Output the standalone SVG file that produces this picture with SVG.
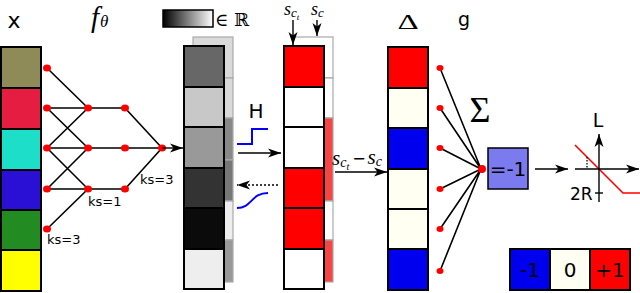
<svg xmlns="http://www.w3.org/2000/svg" width="640" height="293" viewBox="0 0 640 293">
<defs>
<linearGradient id="gbar" x1="0" y1="0" x2="1" y2="0">
<stop offset="0" stop-color="#000"/><stop offset="1" stop-color="#fff"/>
</linearGradient>
<marker id="ah" markerUnits="userSpaceOnUse" markerWidth="14" markerHeight="10" viewBox="0 0 14 10" refX="13" refY="5" orient="auto">
<path d="M0,0.5 L13,5 L0,9.5 L3.5,5 z" fill="#000"/>
</marker>
</defs>
<style>
.s{font-family:"DejaVu Sans",sans-serif;fill:#000}
.m{font-family:"Liberation Serif","DejaVu Serif",serif;font-style:italic;fill:#000}
.cell{stroke:#000;stroke-width:2}
.bk{stroke:#aaa;stroke-width:1.2}
.ln{stroke:#000;stroke-width:1.6;fill:none}
.dot{fill:#f00}
.ar{stroke:#000;stroke-width:1.4;fill:none;marker-end:url(#ah)}
</style>
<rect width="640" height="293" fill="#fff"/>

<g id="input-x">
<text class="s" x="14" y="28" font-size="22" text-anchor="middle">x</text>
<rect class="cell" x="1" y="47" width="40" height="41" fill="#8f8b58"/>
<rect class="cell" x="1" y="88" width="40" height="41" fill="#e51d40"/>
<rect class="cell" x="1" y="129" width="40" height="41" fill="#1ddfc9"/>
<rect class="cell" x="1" y="170" width="40" height="40" fill="#2a0fd4"/>
<rect class="cell" x="1" y="210" width="40" height="40" fill="#228b22"/>
<rect class="cell" x="1" y="250" width="40" height="41" fill="#ffff00"/>
</g>

<g id="network-f">
<text class="m" x="91" y="27" font-size="29">f<tspan font-size="17" dx="1">θ</tspan></text>
<path class="ln" d="M47,68 L88,108 M47,108 L88,108 M47,108 L88,148 M47,148 L88,108 M47,148 L88,148 M47,148 L88,189 M47,189 L88,148 M47,189 L88,189 M47,229 L88,189 M88,108 L125,108 M88,148 L125,148 M88,189 L125,189 M125,108 L162,148 M125,148 L162,148 M125,189 L162,148"/>
<g class="dot">
<ellipse cx="47" cy="68" rx="4" ry="3.5"/><ellipse cx="47" cy="108" rx="4" ry="3.5"/><ellipse cx="47" cy="148" rx="4" ry="3.5"/><ellipse cx="47" cy="189" rx="4" ry="3.5"/><ellipse cx="47" cy="229" rx="4" ry="3.5"/>
<ellipse cx="88" cy="108" rx="4" ry="3.5"/><ellipse cx="88" cy="148" rx="4" ry="3.5"/><ellipse cx="88" cy="189" rx="4" ry="3.5"/>
<ellipse cx="125" cy="108" rx="4" ry="3.5"/><ellipse cx="125" cy="148" rx="4" ry="3.5"/><ellipse cx="125" cy="189" rx="4" ry="3.5"/>
<ellipse cx="162" cy="148" rx="4" ry="3.5"/>
</g>
<text class="s" x="140" y="184" font-size="13">ks=3</text>
<text class="s" x="88" y="206" font-size="13">ks=1</text>
<text class="s" x="47" y="244" font-size="13">ks=3</text>
</g>

<g id="grey-scale">
<rect x="163" y="10" width="50" height="17" fill="url(#gbar)" stroke="#000" stroke-width="1.5"/>
<text x="215" y="26" font-family="DejaVu Serif,serif" font-size="18">∈ ℝ</text>
</g>

<g id="scores">
<rect class="bk" x="193" y="37" width="40" height="41" fill="#dadada"/>
<rect class="bk" x="193" y="78" width="40" height="40" fill="#dadada"/>
<rect class="bk" x="193" y="118" width="40" height="42" fill="#888"/>
<rect class="bk" x="193" y="160" width="40" height="41" fill="#777"/>
<rect class="bk" x="193" y="201" width="40" height="39" fill="#eee"/>
<rect class="bk" x="193" y="240" width="40" height="42" fill="#999"/>
<rect class="cell" x="184" y="46" width="40" height="41" fill="#676767"/>
<rect class="cell" x="184" y="87" width="40" height="40" fill="#c8c8c8"/>
<rect class="cell" x="184" y="127" width="40" height="41" fill="#999"/>
<rect class="cell" x="184" y="168" width="40" height="40" fill="#333"/>
<rect class="cell" x="184" y="208" width="40" height="41" fill="#0b0b0b"/>
<rect class="cell" x="184" y="249" width="40" height="40" fill="#eee"/>
</g>

<g id="heaviside">
<text class="s" x="256" y="118" font-size="20" text-anchor="middle">H</text>
<path d="M237,144 H252 V129 H268" fill="none" stroke="#00f" stroke-width="2"/>
<path d="M237,208 C252,208 251,193 268,193" fill="none" stroke="#00f" stroke-width="2"/>
</g>

<g id="binary">
<rect class="bk" x="293" y="37" width="40" height="41" fill="#fff"/>
<rect class="bk" x="293" y="78" width="40" height="40" fill="#fff"/>
<rect class="bk" x="293" y="118" width="40" height="83" fill="#f54545"/>
<rect class="bk" x="293" y="201" width="40" height="39" fill="#fff"/>
<rect class="bk" x="293" y="240" width="40" height="42" fill="#f54545"/>
<rect class="cell" x="284" y="46" width="40" height="41" fill="#f00"/>
<rect class="cell" x="284" y="87" width="40" height="40" fill="#fff"/>
<rect class="cell" x="284" y="127" width="40" height="41" fill="#fff"/>
<rect class="cell" x="284" y="168" width="40" height="40" fill="#f00"/>
<rect class="cell" x="284" y="208" width="40" height="41" fill="#f00"/>
<rect class="cell" x="284" y="249" width="40" height="40" fill="#fff"/>
<text class="m" x="284" y="15" font-size="18">s<tspan font-size="13" dy="2">c</tspan><tspan font-size="9" dy="3">t</tspan></text>
<text class="m" x="311" y="15" font-size="18">s<tspan font-size="13" dy="2">c</tspan></text>
</g>

<g id="delta">
<text x="408" y="29" font-family="Liberation Serif,serif" font-size="22" text-anchor="middle" transform="translate(408 0) scale(1.5 1) translate(-408 0)">Δ</text>
<text class="m" x="332" y="165" font-size="21">s<tspan font-size="14" dy="2">c</tspan><tspan font-size="10" dy="3">t</tspan><tspan font-family="DejaVu Sans,sans-serif" font-style="normal" font-size="16" dy="-6" dx="3">−</tspan><tspan dx="2">s</tspan><tspan font-size="14" dy="2">c</tspan></text>
<rect class="cell" x="388" y="47" width="40" height="41" fill="#f00"/>
<rect class="cell" x="388" y="88" width="40" height="40" fill="#fffff2"/>
<rect class="cell" x="388" y="128" width="40" height="41" fill="#0000ee"/>
<rect class="cell" x="388" y="169" width="40" height="40" fill="#fffff2"/>
<rect class="cell" x="388" y="209" width="40" height="40" fill="#fffff2"/>
<rect class="cell" x="388" y="249" width="40" height="41" fill="#0000ee"/>
</g>

<g id="g-sum">
<text class="s" x="464" y="26" font-size="19" text-anchor="middle">g</text>
<text x="480" y="122" font-family="Liberation Serif,serif" font-size="36" text-anchor="middle">Σ</text>
<path class="ln" stroke-width="1.3" d="M440,68 L481,169 M440,108 L481,169 M440,148 L481,169 M440,189 L481,169 M440,229 L481,169 M440,271 L481,169"/>
<g class="dot">
<ellipse cx="440" cy="68" rx="3.5" ry="3"/><ellipse cx="440" cy="108" rx="3.5" ry="3"/><ellipse cx="440" cy="148" rx="3.5" ry="3"/><ellipse cx="440" cy="189" rx="3.5" ry="3"/><ellipse cx="440" cy="229" rx="3.5" ry="3"/><ellipse cx="440" cy="271" rx="3.5" ry="3"/>
</g>
</g>

<g id="sum-box">
<rect x="488" y="148" width="40" height="41" fill="#7b7bef" stroke="#000" stroke-width="1.5"/>
<circle class="dot" cx="482" cy="169" r="4"/>
<text class="s" x="508" y="176" font-size="20" text-anchor="middle">=-1</text>
</g>

<g id="loss">
<text class="s" x="598" y="127" font-size="19" text-anchor="middle">L</text>
<path d="M575,145 L623,193 H640" fill="none" stroke="#f00" stroke-width="1.6"/>
<path d="M587,157 V169" stroke="#000" stroke-width="1.3" stroke-dasharray="1.5,1.5"/>
<path d="M595,193 H603" stroke="#000" stroke-width="1.4"/>
<text class="s" x="570" y="200" font-size="17">2R</text>
</g>

<g id="legend">
<rect x="510" y="249" width="40" height="41" fill="#0000ee" stroke="#000" stroke-width="2"/>
<rect x="550" y="249" width="40" height="41" fill="#fffff2" stroke="#000" stroke-width="2"/>
<rect x="590" y="249" width="40" height="41" fill="#f00" stroke="#000" stroke-width="2"/>
<text class="s" x="530" y="277" font-size="20" text-anchor="middle">-1</text>
<text class="s" x="570" y="277" font-size="20" text-anchor="middle">0</text>
<text class="s" x="610" y="277" font-size="20" text-anchor="middle">+1</text>
</g>

<g id="connectors">
<line class="ar" x1="162" y1="148" x2="183" y2="148"/>
<line class="ar" x1="238" y1="153" x2="281" y2="153"/>
<line class="ar" x1="278" y1="185" x2="237" y2="185" stroke-dasharray="2,2"/>
<line class="ar" x1="293" y1="20" x2="293" y2="45"/>
<line class="ar" x1="317" y1="20" x2="317" y2="36"/>
<line class="ar" x1="335" y1="172" x2="387" y2="172"/>
<line class="ar" x1="535" y1="169" x2="568" y2="169"/>
<line class="ar" x1="575" y1="169" x2="639" y2="169"/>
<line class="ar" x1="599" y1="202" x2="599" y2="134"/>
</g>
</svg>
